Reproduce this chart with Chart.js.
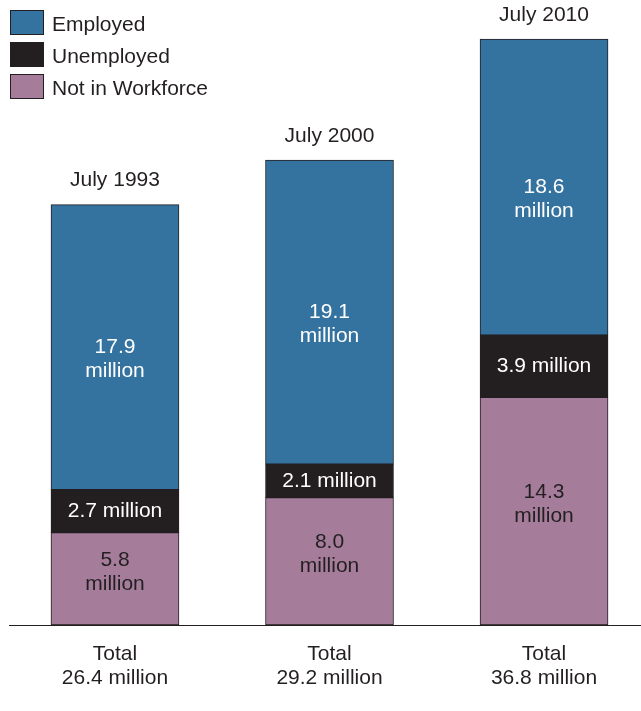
<!DOCTYPE html>
<html>
<head>
<meta charset="utf-8">
<script src="https://cdn.jsdelivr.net/npm/chart.js@4"></script>
<style>
  html, body { margin: 0; padding: 0; background: #ffffff; }
  #wrap { width: 641px; height: 711px; position: relative; }
</style>
</head>
<body>
<div id="wrap"><canvas id="chart" width="641" height="711"></canvas></div>
<script>
const categories = ["July 1993", "July 2000", "July 2010"];
const seriesNames = ["Employed", "Unemployed", "Not in Workforce"];
const employed = [17.9, 19.1, 18.6];
const unemployed = [2.7, 2.1, 3.9];
const notInWorkforce = [5.8, 8.0, 14.3];
const totals = [26.4, 29.2, 36.8];

const INK = "#231f20";
const COLORS = {
  employed: "#34729f",
  unemployed: "#231f20",
  notInWorkforce: "#a57d9b"
};
const FONT = '21px "Liberation Sans", Arial, sans-serif';

function points(values) {
  return values.map((v, i) => ({ x: i, y: v }));
}

function segmentLabel(value, twoLines) {
  const num = value.toFixed(1);
  return twoLines ? [num, "million"] : [num + " million"];
}

// datasets bottom-up; legend order is reversed
const datasets = [
  {
    label: seriesNames[2],
    data: points(notInWorkforce),
    backgroundColor: COLORS.notInWorkforce,
    textColor: INK,
    twoLines: true,
    textShift: -7
  },
  {
    label: seriesNames[1],
    data: points(unemployed),
    backgroundColor: COLORS.unemployed,
    textColor: "#ffffff",
    twoLines: false,
    textShift: 0
  },
  {
    label: seriesNames[0],
    data: points(employed),
    backgroundColor: COLORS.employed,
    textColor: "#ffffff",
    twoLines: true,
    textShift: 12
  }
].map((ds) => ({
  ...ds,
  borderColor: INK,
  borderWidth: 1,
  borderSkipped: false,
  barThickness: 128
}));

const annotations = {
  id: "annotations",
  beforeDatasetsDraw(chart) {
    const { ctx, chartArea, scales } = chart;
    const y0 = Math.round(scales.y.getPixelForValue(0)) + 0.5;
    ctx.save();
    ctx.strokeStyle = INK;
    ctx.lineWidth = 1;
    ctx.beginPath();
    ctx.moveTo(chartArea.left, y0);
    ctx.lineTo(chartArea.right, y0);
    ctx.stroke();
    ctx.restore();
  },
  afterDatasetsDraw(chart) {
    const { ctx, scales } = chart;
    ctx.save();
    ctx.font = FONT;
    ctx.textAlign = "center";
    ctx.textBaseline = "middle";

    chart.data.datasets.forEach((ds, di) => {
      const meta = chart.getDatasetMeta(di);
      meta.data.forEach((el, i) => {
        const lines = segmentLabel(ds.data[i].y, ds.twoLines);
        const mid = (el.y + el.base) / 2 + ds.textShift;
        const start = mid - ((lines.length - 1) * 24) / 2;
        ctx.fillStyle = ds.textColor;
        lines.forEach((line, li) => ctx.fillText(line, el.x, start + li * 24));
      });
    });

    // category names above, totals below
    const topMeta = chart.getDatasetMeta(chart.data.datasets.length - 1);
    const base = scales.y.getPixelForValue(0);
    ctx.fillStyle = INK;
    topMeta.data.forEach((el, i) => {
      ctx.fillText(categories[i], el.x, el.y - 24);
      ctx.fillText("Total", el.x, base + 29);
      ctx.fillText(totals[i].toFixed(1) + " million", el.x, base + 53);
    });

    // legend, top left
    const legendColors = [COLORS.employed, COLORS.unemployed, COLORS.notInWorkforce];
    ctx.textAlign = "left";
    seriesNames.forEach((name, i) => {
      const top = 10 + i * 32;
      ctx.fillStyle = legendColors[i];
      ctx.fillRect(10, top, 34, 25);
      ctx.strokeStyle = INK;
      ctx.lineWidth = 1;
      ctx.strokeRect(10.5, top + 0.5, 33, 24);
      ctx.fillStyle = INK;
      ctx.fillText(name, 52, top + 15);
    });
    ctx.restore();
  }
};

new Chart(document.getElementById("chart"), {
  type: "bar",
  data: { datasets },
  options: {
    responsive: false,
    animation: false,
    layout: { padding: { left: 9, right: 0, top: 0, bottom: 86 } },
    plugins: {
      legend: { display: false },
      tooltip: { enabled: false }
    },
    scales: {
      x: { type: "linear", stacked: true, offset: false, min: -0.494, max: 2.452, display: false },
      y: { stacked: true, min: 0, max: 39.25, display: false }
    }
  },
  plugins: [annotations]
});
</script>
</body>
</html>
